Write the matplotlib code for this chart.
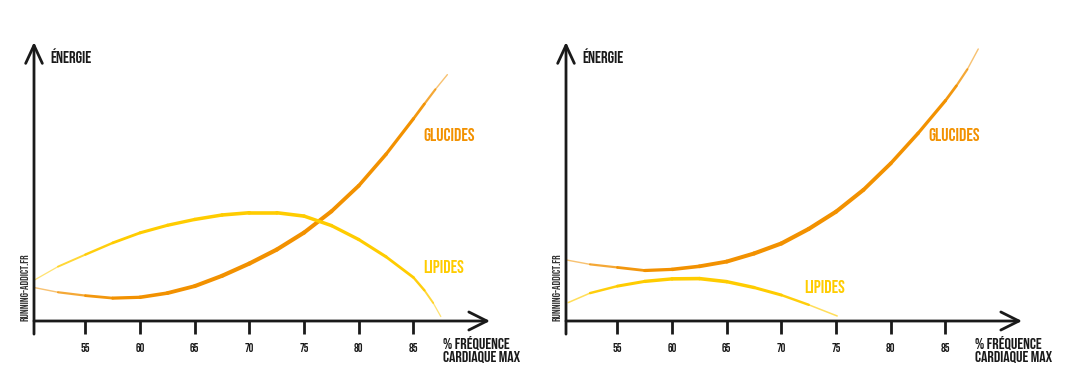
import numpy as np
import matplotlib
matplotlib.use("Agg")
import matplotlib.pyplot as plt
from matplotlib.collections import LineCollection
from matplotlib.colors import to_rgba

# -------------------------
# Data (x = % FC max, y = energy, 0..100)
# -------------------------
ticks = [55, 60, 65, 70, 75, 80, 85]

# left panel: untrained
left_glu_x = [50.3, 52.5, 55, 57.5, 60, 62.5, 65, 67.5, 70, 72.5, 75, 77.5, 80, 82.5, 85, 86, 87, 88.1]
left_glu_y = [12.0, 10.3, 9.1, 8.2, 8.5, 10.0, 12.5, 16.2, 20.6, 25.6, 31.7, 39.3, 48.5, 59.8, 72.5, 77.8, 83.0, 88.3]
left_lip_x = [50.3, 52.5, 55, 57.5, 60, 62.5, 65, 67.5, 70, 72.5, 75, 77.5, 80, 82.5, 85, 86, 86.8, 87.5]
left_lip_y = [14.6, 19.5, 23.8, 28.0, 31.6, 34.3, 36.4, 38.0, 38.8, 38.8, 37.6, 34.2, 29.2, 23.0, 15.6, 11.0, 6.5, 1.6]

# right panel: trained
right_glu_x = [50.3, 52.5, 55, 57.5, 60, 62.5, 65, 67.5, 70, 72.5, 75, 77.5, 80, 82.5, 85, 86, 87, 88.0]
right_glu_y = [21.9, 20.3, 19.2, 18.1, 18.5, 19.6, 21.3, 24.2, 27.8, 33.0, 39.2, 47.0, 56.5, 67.3, 79.0, 84.3, 90.2, 97.5]
right_lip_x = [50.5, 52.5, 55, 57.5, 60, 62.5, 65, 67.5, 70, 72.5, 75.1]
right_lip_y = [6.6, 10.0, 12.5, 14.2, 15.1, 15.2, 14.1, 12.0, 9.3, 5.8, 1.8]

ORANGE = "#F29100"
YELLOW = "#FFCC00"
DARK = "#1a1a1a"
FONT = ["Bebas Neue", "Oswald", "IBM Plex Sans Condensed", "DejaVu Sans"]

plt.rcParams["font.family"] = FONT

fig = plt.figure(figsize=(10.68, 3.75), dpi=100)
W, H = 1068, 375


def tapered(ax, x, y, color, wmax):
    # line that is thick in the middle and thin / faded at both ends
    pts = np.column_stack([x, y])
    segs = np.stack([pts[:-1], pts[1:]], axis=1)
    t = (np.arange(len(segs)) + 0.5) / len(segs)
    prof = np.sin(np.pi * t) ** 0.6
    widths = 0.4 + (wmax - 0.4) * prof
    rgba = np.array([to_rgba(color)] * len(segs))
    rgba[:, 3] = 0.3 + 0.7 * np.clip(prof * 1.5, 0, 1)
    lc = LineCollection(segs, linewidths=widths, colors=rgba, capstyle="round",
                        joinstyle="round")
    ax.add_collection(lc)


def panel(left_px, glu, lip, glu_lab, lip_lab):
    ax = fig.add_axes([left_px / W, (H - 321) / H, 456 / W, 279 / H])
    ax.set_xlim(50.3, 92.0)
    ax.set_ylim(0, 100)
    for s in ["top", "right", "left", "bottom"]:
        ax.spines[s].set_visible(False)
    ax.set_yticks([])
    ax.set_xticks(ticks)
    ax.set_xticklabels([str(t) for t in ticks], fontsize=8.5, color=DARK)
    ax.tick_params(axis="x", length=9.5, width=2, color=DARK, pad=6.5)

    # axes with open arrow heads
    ax.annotate("", xy=(1.0, 0), xytext=(0, 0), xycoords="axes fraction",
                arrowprops=dict(arrowstyle="->,head_length=1.3,head_width=0.65",
                                lw=2, color=DARK, shrinkA=0, shrinkB=0))
    ax.annotate("", xy=(0, 1.0), xytext=(0, -0.047), xycoords="axes fraction",
                arrowprops=dict(arrowstyle="->,head_length=1.3,head_width=0.6",
                                lw=2, color=DARK, shrinkA=0, shrinkB=0))

    tapered(ax, glu[0], glu[1], ORANGE, 3.0)
    tapered(ax, lip[0], lip[1], YELLOW, 2.6)

    ax.text(glu_lab[0], glu_lab[1], "GLUCIDES", color=ORANGE, fontsize=13,
            va="center", ha="left")
    ax.text(lip_lab[0], lip_lab[1], "LIPIDES", color=YELLOW, fontsize=13,
            va="center", ha="left")

    ax.text(0.035, 0.95, "ÉNERGIE", transform=ax.transAxes, color=DARK,
            fontsize=12, va="center", ha="left")
    ax.text(0.897, -0.102, "% FRÉQUENCE\nCARDIAQUE MAX", transform=ax.transAxes,
            color=DARK, fontsize=11.5, va="center", ha="left", linespacing=1.1)
    ax.text(-0.02, 0.122, "RUNNING-ADDICT.FR", transform=ax.transAxes,
            color="#333333", fontsize=8, rotation=90, va="center", ha="center")
    return ax


panel(34, (left_glu_x, left_glu_y), (left_lip_x, left_lip_y), (85.9, 67.0), (85.9, 19.4))
panel(566, (right_glu_x, right_glu_y), (right_lip_x, right_lip_y), (83.4, 67.0), (72.1, 12.2))

fig.savefig("out.png", dpi=100, facecolor="white")
